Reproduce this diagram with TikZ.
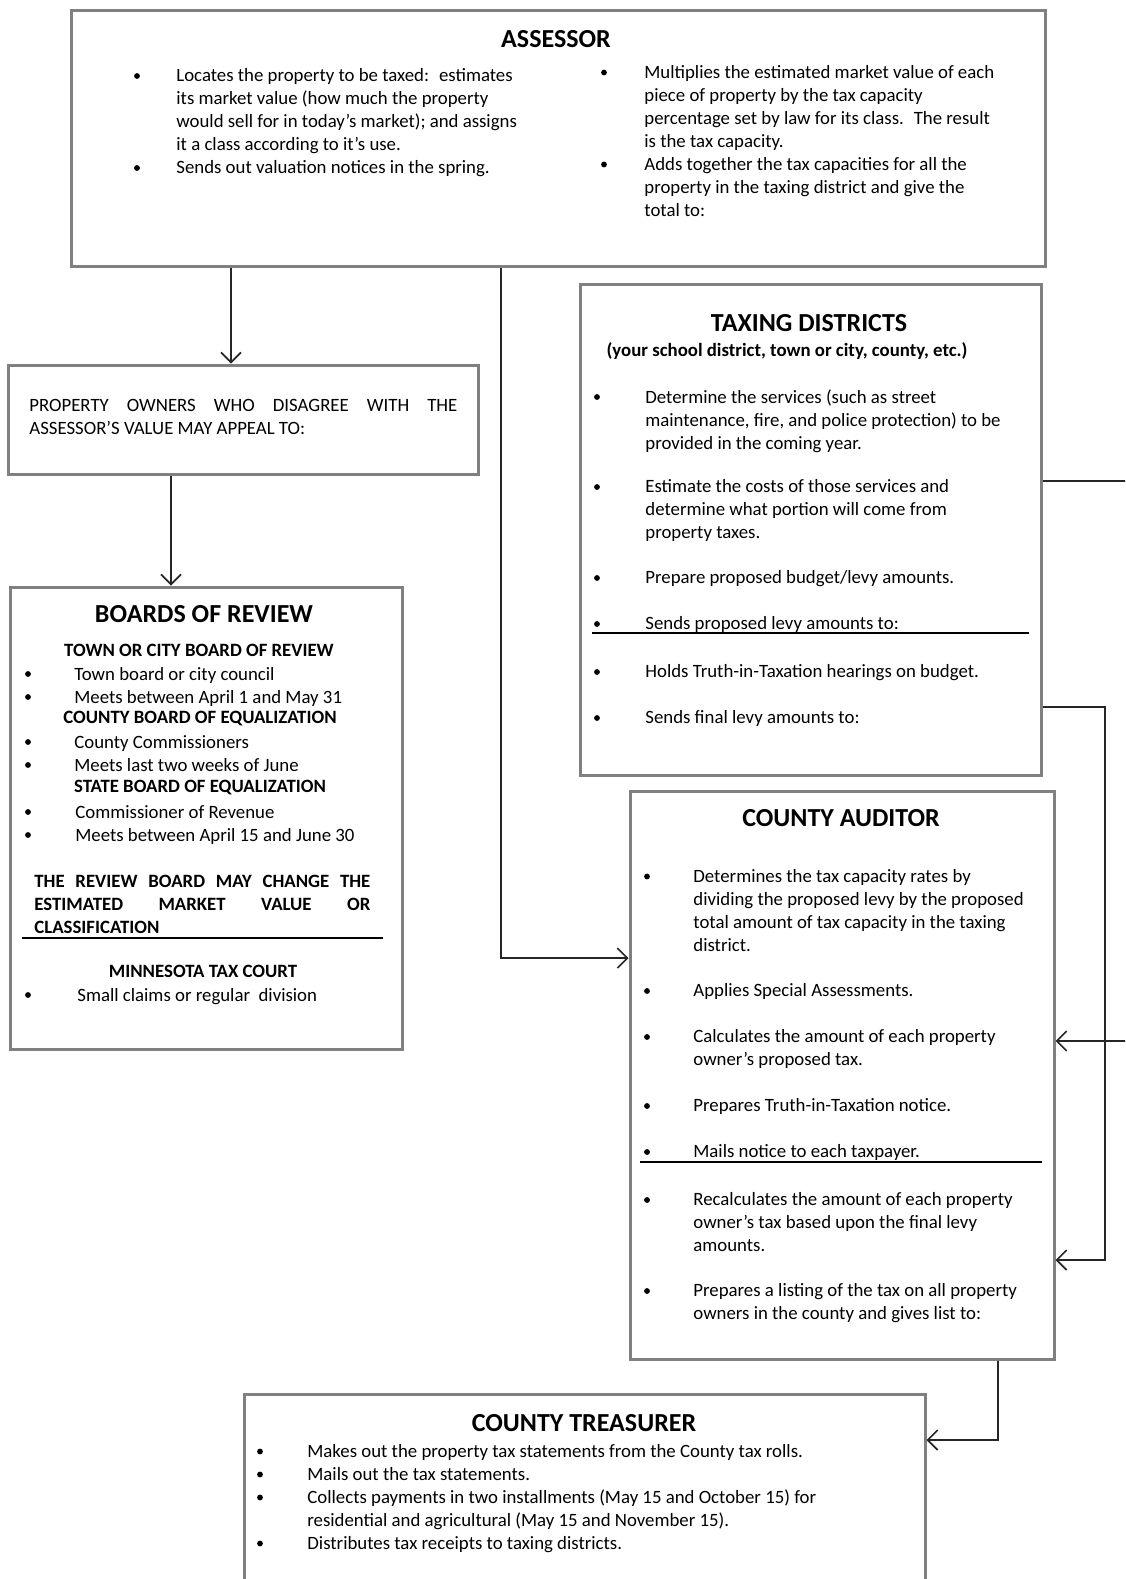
\documentclass[tikz,border=0pt]{standalone}
\usepackage{fontspec}
\setmainfont{Carlito}
\usetikzlibrary{arrows.meta}

\newcommand\bodyfont{\fontsize{9.4}{11.5}\selectfont}
\newcommand\headfont{\fontsize{13}{15}\selectfont\bfseries}

\begin{document}
\begin{tikzpicture}[x=0.5pt, y=-0.5pt,
    box/.style={draw=black!50, line width=1.5pt, inner sep=0pt},
    txt/.style={anchor=north west, inner sep=0pt, yshift=-2pt, align=left, font=\bodyfont, execute at begin node=\strut},
    head/.style={inner sep=0pt, font=\headfont},
    subhead/.style={inner sep=0pt, font=\bodyfont\bfseries},
    rule/.style={draw=black, line width=1pt},
    link/.style={draw=black!85, line width=0.8pt},
    arr/.style={link, -{Straight Barb[length=5pt, width=10pt]}}]

    \useasboundingbox (0,0) rectangle (1125,1579);
    \clip (0,0) rectangle (1125,1579);

    \def\r{2.9}     % bullet radius

    % the six boxes
    \node[box, minimum width=487pt, minimum height=128pt]   (assessor)  at (558,138)    {};
    \node[box, minimum width=235pt, minimum height=54.5pt]  (owners)    at (243,419.5)  {};
    \node[box, minimum width=230.5pt, minimum height=245.5pt] (taxing)  at (810.5,529.5) {};
    \node[box, minimum width=196pt, minimum height=231pt]   (boards)    at (206,818)    {};
    \node[box, minimum width=212pt, minimum height=284pt]   (auditor)   at (842,1075)   {};
    \node[box, minimum width=340.5pt, minimum height=103pt] (treasurer) at (584.5,1497) {};

    % ASSESSOR
    \node[head] (as-title) at (556,39) {ASSESSOR};
    \node[txt] (as-left) at (176,64.5) {Locates the property to be taxed:~ estimates\\
        its market value (how much the property\\
        would sell for in today’s market); and assigns\\
        it a class according to it’s use.\\
        Sends out valuation notices in the spring.};
    \node[txt] (as-right) at (644,61) {Multiplies the estimated market value of each\\
        piece of property by the tax capacity\\
        percentage set by law for its class.~ The result\\
        is the tax capacity.\\
        Adds together the tax capacities for all the\\
        property in the taxing district and give the\\
        total to:};
    \foreach \y in {76,168} \fill (137,\y) circle (\r);
    \foreach \y in {72.5,164.5} \fill (604,\y) circle (\r);

    % PROPERTY OWNERS
    \node[txt] (ow-text) at (29,395) {\makebox[214pt][s]{PROPERTY OWNERS WHO DISAGREE WITH THE}\\
        ASSESSOR’S VALUE MAY APPEAL TO:};

    % TAXING DISTRICTS
    \node[head] (td-title) at (809,323) {TAXING DISTRICTS};
    \node[subhead] (td-sub) at (787,351) {(your school district, town or city, county, etc.)};
    \node[txt] (td1) at (645,385.5) {Determine the services (such as street\\
        maintenance, fire, and police protection) to be\\
        provided in the coming year.};
    \node[txt] (td2) at (645,475.5) {Estimate the costs of those services and\\
        determine what portion will come from\\
        property taxes.};
    \node[txt] (td3) at (645,563) {Prepare proposed budget/levy amounts.};
    \node[txt] (td4) at (645,609) {Sends proposed levy amounts to:};
    \node[txt] (td5) at (645,657) {Holds Truth-in-Taxation hearings on budget.};
    \node[txt] (td6) at (645,703) {Sends final levy amounts to:};
    \foreach \y in {397,487,578,624,672,718} \fill (597,\y) circle (\r);
    \draw[rule] (592,633) -- (1029,633);

    % BOARDS OF REVIEW
    \node[head] (br-title) at (204,614) {BOARDS OF REVIEW};
    \node[subhead] (br-town)   at (199,650) {TOWN OR CITY BOARD OF REVIEW};
    \node[txt] (br1) at (74,663.5) {Town board or city council\\Meets between April 1 and May 31};
    \node[subhead] (br-county) at (200,719) {COUNTY BOARD OF EQUALIZATION};
    \node[txt] (br2) at (74,731.5) {County Commissioners\\Meets last two weeks of June};
    \node[subhead] (br-state)  at (200,788) {STATE BOARD OF EQUALIZATION};
    \node[txt] (br3) at (75,801.5) {Commissioner of Revenue\\Meets between April 15 and June 30};
    \node[txt, font=\bodyfont\bfseries] (br-change) at (34,871) {\makebox[168pt][s]{THE REVIEW BOARD MAY CHANGE THE}\\
        \makebox[168pt][s]{ESTIMATED MARKET VALUE OR}\\
        CLASSIFICATION};
    \draw[rule] (22,938) -- (383,938);
    \node[subhead] (br-court)  at (203,971) {MINNESOTA TAX COURT};
    \node[txt] (br4) at (77,981) {Small claims or regular~ division};
    \foreach \y in {674,697,742,765,812,835,995} \fill (28,\y) circle (\r);

    % COUNTY AUDITOR
    \node[head] (au-title) at (841,818) {COUNTY AUDITOR};
    \node[txt] (au1) at (693,865) {Determines the tax capacity rates by\\
        dividing the proposed levy by the proposed\\
        total amount of tax capacity in the taxing\\
        district.};
    \node[txt] (au2) at (693,976) {Applies Special Assessments.};
    \node[txt] (au3) at (693,1025.5) {Calculates the amount of each property\\
        owner’s proposed tax.};
    \node[txt] (au4) at (693,1091) {Prepares Truth-in-Taxation notice.};
    \node[txt] (au5) at (693,1137) {Mails notice to each taxpayer.};
    \node[txt] (au6) at (693,1188.5) {Recalculates the amount of each property\\
        owner’s tax based upon the final levy\\
        amounts.};
    \node[txt] (au7) at (693,1279.5) {Prepares a listing of the tax on all property\\
        owners in the county and gives list to:};
    \foreach \y in {876.5,991,1037,1106,1152,1200,1291} \fill (647,\y) circle (\r);
    \draw[rule] (640,1162) -- (1042,1162);

    % COUNTY TREASURER
    \node[head] (tr-title) at (584,1423) {COUNTY TREASURER};
    \node[txt] (tr1) at (307,1440) {Makes out the property tax statements from the County tax rolls.\\
        Mails out the tax statements.\\
        Collects payments in two installments (May 15 and October 15) for\\
        residential and agricultural (May 15 and November 15).\\
        Distributes tax receipts to taxing districts.};
    \foreach \y in {1451.5,1474.5,1497.5,1543.5} \fill (260,\y) circle (\r);

    % connectors
    \draw[arr] (assessor.south -| 231,0) -- (owners.north -| 231,0);
    \draw[arr] (owners.south -| 171,0) -- (boards.north -| 171,0);
    \draw[arr] (assessor.south -| 501,0) |- (auditor.west |- 0,958);
    \draw[arr] (taxing.east |- 0,481) -- (1140,481) |- (auditor.east |- 0,1041);
    \draw[arr] (taxing.east |- 0,707) -- (1105,707) |- (auditor.east |- 0,1260);
    \draw[arr] (auditor.south -| 998,0) |- (treasurer.east |- 0,1440);

\end{tikzpicture}
\end{document}
